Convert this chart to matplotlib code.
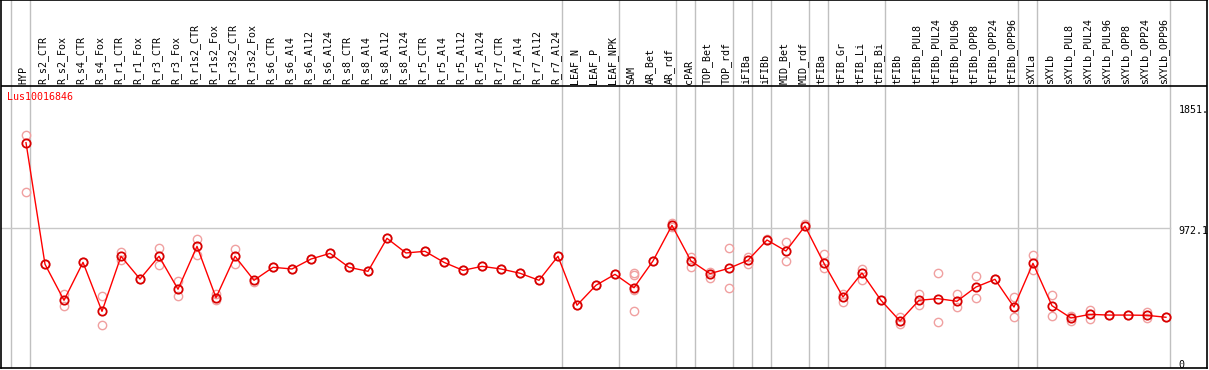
import numpy as np
import matplotlib.pyplot as plt

samples = ['HYP', 'R_s2_CTR', 'R_s2_Fox', 'R_s4_CTR', 'R_s4_Fox', 'R_r1_CTR', 'R_r1_Fox',
           'R_r3_CTR', 'R_r3_Fox', 'R_r1s2_CTR', 'R_r1s2_Fox', 'R_r3s2_CTR', 'R_r3s2_Fox',
           'R_s6_CTR', 'R_s6_Al4', 'R_s6_Al12', 'R_s6_Al24', 'R_s8_CTR', 'R_s8_Al4', 'R_s8_Al12',
           'R_s8_Al24', 'R_r5_CTR', 'R_r5_Al4', 'R_r5_Al12', 'R_r5_Al24', 'R_r7_CTR', 'R_r7_Al4',
           'R_r7_Al12', 'R_r7_Al24', 'LEAF_N', 'LEAF_P', 'LEAF_NPK', 'SAM', 'AR_Bet', 'AR_rdf',
           'cPAR', 'TOP_Bet', 'TOP_rdf', 'iFIBa', 'iFIBb', 'MID_Bet', 'MID_rdf', 'tFIBa',
           'tFIB_Gr', 'tFIB_Li', 'tFIB_Bi', 'tFIBb', 'tFIBb_PUL8', 'tFIBb_PUL24', 'tFIBb_PUL96',
           'tFIBb_OPP8', 'tFIBb_OPP24', 'tFIBb_OPP96', 'sXYLa', 'sXYLb', 'sXYLb_PUL8',
           'sXYLb_PUL24', 'sXYLb_PUL96', 'sXYLb_OPP8', 'sXYLb_OPP24', 'sXYLb_OPP96']

means = [1592, 711, 450, 725, 370, 769, 604, 769, 530, 841, 469, 769, 595,
         689, 677, 749, 790, 689, 660, 899, 793, 805, 725, 667, 696, 677, 646, 595, 769,
         414, 559, 638, 541, 735, 993, 735, 643, 682, 740, 887, 807, 988, 718,
         474, 648, 450, 300, 450, 462, 443, 546, 602, 401, 718, 411, 322, 348,
         343, 343, 341, 327]

reps = [[1646, 1233], [711], [493, 411], [730], [479, 269], [798, 742], [604],
        [829, 703], [588, 479], [894, 781], [496, 452], [822, 713], [580],
        [689], [677], [749], [790], [689], [660], [899], [793], [805], [725], [667],
        [696], [677], [646], [595], [769], [414], [559], [638],
        [648, 631, 525, 370], [735], [1012, 983], [766, 694], [657, 612], [827, 537],
        [762, 713], [894], [870, 733], [1006], [783, 682], [496, 438], [675, 595], [450],
        [327, 276], [496, 414], [646, 293], [496, 399], [624, 467], [602], [472, 329],
        [778, 670], [486, 336], [338, 300], [382, 317], [343], [343], [367, 319], [327]]

# index of last sample in each group (gray separators)
group_ends = [-1, 0, 28, 31, 34, 35, 37, 38, 39, 41, 42, 45, 52, 53, 60]

gene = 'Lus10016846'
ytick_vals = [1851, 972.1, 0]
ytick_text = ['1851.', '972.1', '0']

mono = 'DejaVu Sans Mono'

fig = plt.figure(figsize=(12.09, 3.70), dpi=100)
ax = fig.add_axes([1 / 1209, 2 / 370, 1206 / 1209, 368 / 370])

x = np.arange(len(samples))
ax.set_xlim(-1.316, 62.16)
ax.set_ylim(-40.6, 2626)

# separator lines
for g in group_ends:
    xs = g + 0.23 if g >= 0 else -0.8
    ax.axvline(xs, color='#c0c0c0', lw=1, zorder=1)
ax.plot([-1.316, 60.21], [972.1, 972.1], color='#c8c8c8', lw=1, zorder=1)
ax.axhline(2003, color='black', lw=1.2, zorder=2)

# replicates
for i, r in enumerate(reps):
    ax.plot([i] * len(r), r, linestyle='none', marker='o', markersize=6,
            markerfacecolor='none', markeredgecolor='#f0a0a0', markeredgewidth=1, zorder=3)

ax.plot(x, means, color='red', lw=1, marker='o', markersize=6,
        markerfacecolor='none', markeredgecolor='#d80000', markeredgewidth=1.3, zorder=4)

for i, s in enumerate(samples):
    ax.text(i - 0.12, 2015, s, rotation=90, ha='center', va='bottom',
            fontsize=7.2, family=mono)

ax.text(-1.0, 1923, gene, color='red', fontsize=7.2, family=mono, va='center', ha='left')

for v, t in zip(ytick_vals, ytick_text):
    ax.text(60.65, v - 22, t, fontsize=7.2, family=mono, va='center', ha='left')

ax.set_xticks([])
ax.set_yticks([])
for sp in ax.spines.values():
    sp.set_color('black')
    sp.set_linewidth(1.2)

fig.savefig('out.png', dpi=100)
